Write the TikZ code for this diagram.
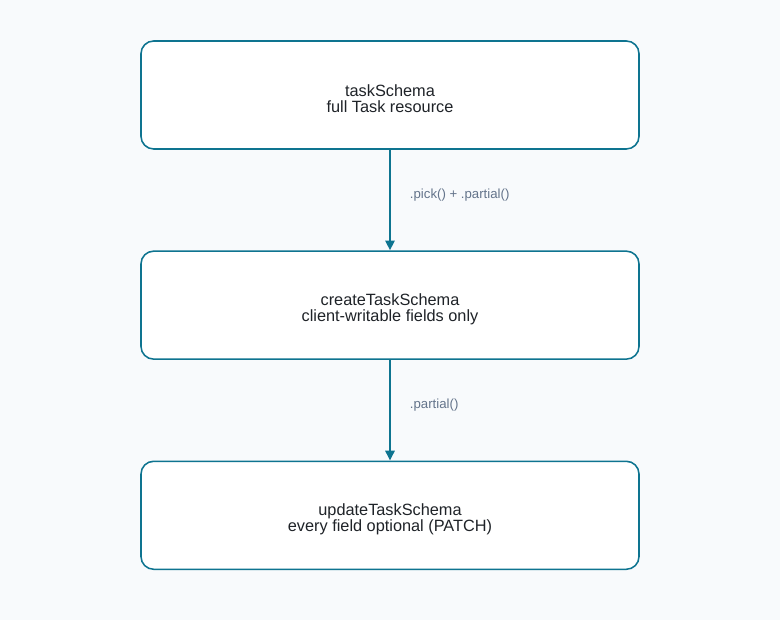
\documentclass[tikz,border=0pt]{standalone}
\usepackage{fontspec}
\setmainfont{Liberation Sans}
\usetikzlibrary{arrows.meta,positioning}
\definecolor{teal}{HTML}{0E7490}
\definecolor{bgcol}{HTML}{F8FAFC}
\definecolor{lblgray}{HTML}{64748B}
\definecolor{txt}{HTML}{1F2328}
\newcommand{\schemastrut}{\rule{0pt}{14pt}}

\begin{document}
\begin{tikzpicture}[
schema/.style 	= {draw=teal, fill=white, line width=1.1pt, rounded corners=9pt,
		minimum width=12.45cm, minimum height=2.7cm, align=center,
		font=\fontsize{11.6}{11.4}\selectfont, text=txt},
derive/.style 	= {draw=teal, line width=1.8pt, -{Triangle[length=7pt,width=6.5pt]}},
deriv label/.style = {font=\fontsize{9.4}{11}\selectfont, text=lblgray, anchor=west, xshift=0.35cm}
]
%\draw[help lines] (0,0) grid (19.5,15.5);
\fill[bgcol] (0,0) rectangle (19.5,15.5);
\useasboundingbox (0,0) rectangle (19.5,15.5);

\node[schema] (task) at (9.75,13.125) {\schemastrut taskSchema\\full Task resource};
\node[schema, below=2.515cm of task] (create) {\schemastrut createTaskSchema\\client-writable fields only};
\node[schema, below=2.515cm of create] (update) {\schemastrut updateTaskSchema\\every field optional (PATCH)};

\draw[derive] (task.south) -- node[deriv label, pos=0.45] {.pick() + .partial()} (create.north);
\draw[derive] (create.south) -- node[deriv label, pos=0.45] {.partial()} (update.north);
\end{tikzpicture}
\end{document}
